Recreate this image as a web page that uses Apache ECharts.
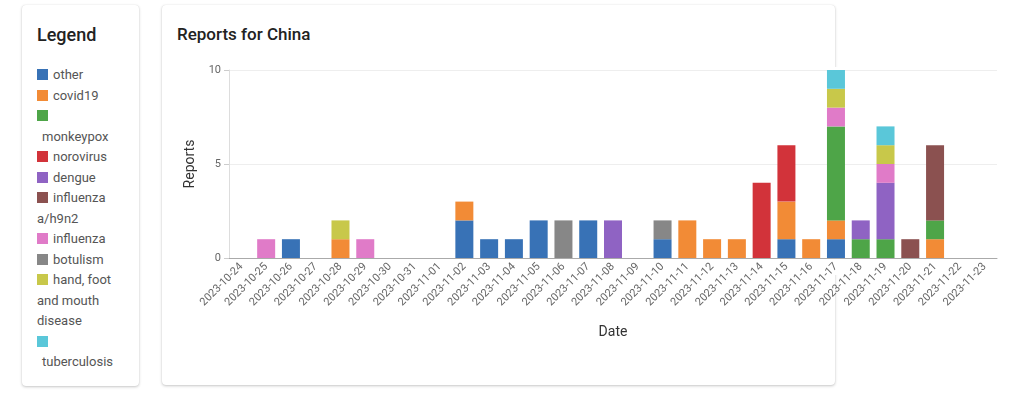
<!DOCTYPE html>
<html>
<head>
<meta charset="utf-8">
<script src="https://cdn.jsdelivr.net/npm/echarts@6/dist/echarts.min.js"></script>
<style>
  html, body { margin: 0; padding: 0; background: #fff; font-family: Roboto, "Noto Sans", sans-serif; }
  body { width: 1016px; height: 397px; position: relative; overflow: hidden; }
  .card {
    position: absolute; background: #fff; border-radius: 4px;
    box-shadow: 0 1px 3px rgba(0,0,0,0.22), 0 0 1px rgba(0,0,0,0.12);
  }
  .ttl { position: absolute; font-weight: 500; color: #222; }
  #legendList { position: absolute; left: 15px; top: 60px; width: 79px; font-size: 13px; line-height: 20.5px; color: #555; }
  .sw { display: inline-block; width: 11px; height: 11px; vertical-align: -1px; }
  .lbl { margin-left: 5px; }
  #cover { position: absolute; left: 828px; top: 67px; width: 20px; height: 208px; background: #fff; }
  #chart { position: absolute; left: 162px; top: 55px; width: 854px; height: 300px; }
</style>
</head>
<body>
<div class="card" style="left:22px;top:5px;width:117px;height:381px">
  <div class="ttl" style="left:15px;top:19px;font-size:18px">Legend</div>
  <div id="legendList"></div>
</div>
<div class="card" style="left:162px;top:5px;width:673px;height:380px">
  <div class="ttl" style="left:15px;top:19px;font-size:17px">Reports for China</div>
</div>
<div id="cover"></div>
<div id="chart"></div>

<script>
const dates = [
  "2023-10-24", "2023-10-25", "2023-10-26", "2023-10-27", "2023-10-28", "2023-10-29",
  "2023-10-30", "2023-10-31", "2023-11-01", "2023-11-02", "2023-11-03", "2023-11-04",
  "2023-11-05", "2023-11-06", "2023-11-07", "2023-11-08", "2023-11-09", "2023-11-10",
  "2023-11-11", "2023-11-12", "2023-11-13", "2023-11-14", "2023-11-15", "2023-11-16",
  "2023-11-17", "2023-11-18", "2023-11-19", "2023-11-20", "2023-11-21", "2023-11-22",
  "2023-11-23"
];

// reports per day, one array per disease (stack order bottom -> top)
const other        = [0,0,1,0,0,0,0,0,0,2,1,1,2,0,2,0,0,1,0,0,0,0,1,0,1,0,0,0,0,0,0];
const covid19      = [0,0,0,0,1,0,0,0,0,1,0,0,0,0,0,0,0,0,2,1,1,0,2,1,1,0,0,0,1,0,0];
const monkeypox    = [0,0,0,0,0,0,0,0,0,0,0,0,0,0,0,0,0,0,0,0,0,0,0,0,5,1,1,0,1,0,0];
const norovirus    = [0,0,0,0,0,0,0,0,0,0,0,0,0,0,0,0,0,0,0,0,0,4,3,0,0,0,0,0,0,0,0];
const dengue       = [0,0,0,0,0,0,0,0,0,0,0,0,0,0,0,2,0,0,0,0,0,0,0,0,0,1,3,0,0,0,0];
const influenzaH9  = [0,0,0,0,0,0,0,0,0,0,0,0,0,0,0,0,0,0,0,0,0,0,0,0,0,0,0,1,4,0,0];
const influenza    = [0,1,0,0,0,1,0,0,0,0,0,0,0,0,0,0,0,0,0,0,0,0,0,0,1,0,1,0,0,0,0];
const botulism     = [0,0,0,0,0,0,0,0,0,0,0,0,0,2,0,0,0,1,0,0,0,0,0,0,0,0,0,0,0,0,0];
const handFoot     = [0,0,0,0,1,0,0,0,0,0,0,0,0,0,0,0,0,0,0,0,0,0,0,0,1,0,1,0,0,0,0];
const tuberculosis = [0,0,0,0,0,0,0,0,0,0,0,0,0,0,0,0,0,0,0,0,0,0,0,0,1,0,1,0,0,0,0];

const names = ["other", "covid19", "monkeypox", "norovirus", "dengue", "influenza a/h9n2",
  "influenza", "botulism", "hand, foot and mouth disease", "tuberculosis"];
const values = [other, covid19, monkeypox, norovirus, dengue, influenzaH9,
  influenza, botulism, handFoot, tuberculosis];
const colors = ["#3872b6", "#f28b36", "#4ea548", "#d2333a", "#8f63c3", "#8b5150",
  "#e07bc8", "#878787", "#c8c84a", "#5ac7d9"];

// html legend on the left card
document.getElementById("legendList").innerHTML = names.map((n, i) =>
  '<div><span class="sw" style="background:' + colors[i] + '"></span><span class="lbl">' + n + '</span></div>'
).join("");

const chart = echarts.init(document.getElementById("chart"));
chart.setOption({
  animation: false,
  color: colors,
  textStyle: { fontFamily: "Roboto, sans-serif" },
  grid: { left: 67, top: 15, width: 768, height: 188 },
  xAxis: {
    type: "category",
    data: dates,
    name: "Date",
    nameLocation: "middle",
    nameGap: 67,
    nameTextStyle: { fontSize: 14, color: "#333" },
    axisLine: { lineStyle: { color: "#aaa" } },
    axisTick: { length: 5, lineStyle: { color: "#ccc" } },
    axisLabel: { rotate: 45, interval: 0, fontSize: 11, color: "#666", margin: 7 }
  },
  yAxis: {
    type: "value",
    min: 0,
    max: 10,
    interval: 5,
    name: "Reports",
    nameLocation: "middle",
    nameGap: 31,
    nameTextStyle: { fontSize: 14, color: "#333" },
    axisLine: { show: true, lineStyle: { color: "#ddd" } },
    axisTick: { show: true, length: 5, lineStyle: { color: "#ccc" } },
    axisLabel: { fontSize: 11, color: "#666", margin: 8 },
    splitLine: { lineStyle: { color: "#eee" } }
  },
  series: names.map((n, i) => ({
    name: n,
    type: "bar",
    stack: "total",
    barWidth: 18,
    data: values[i]
  }))
});
</script>
</body>
</html>
